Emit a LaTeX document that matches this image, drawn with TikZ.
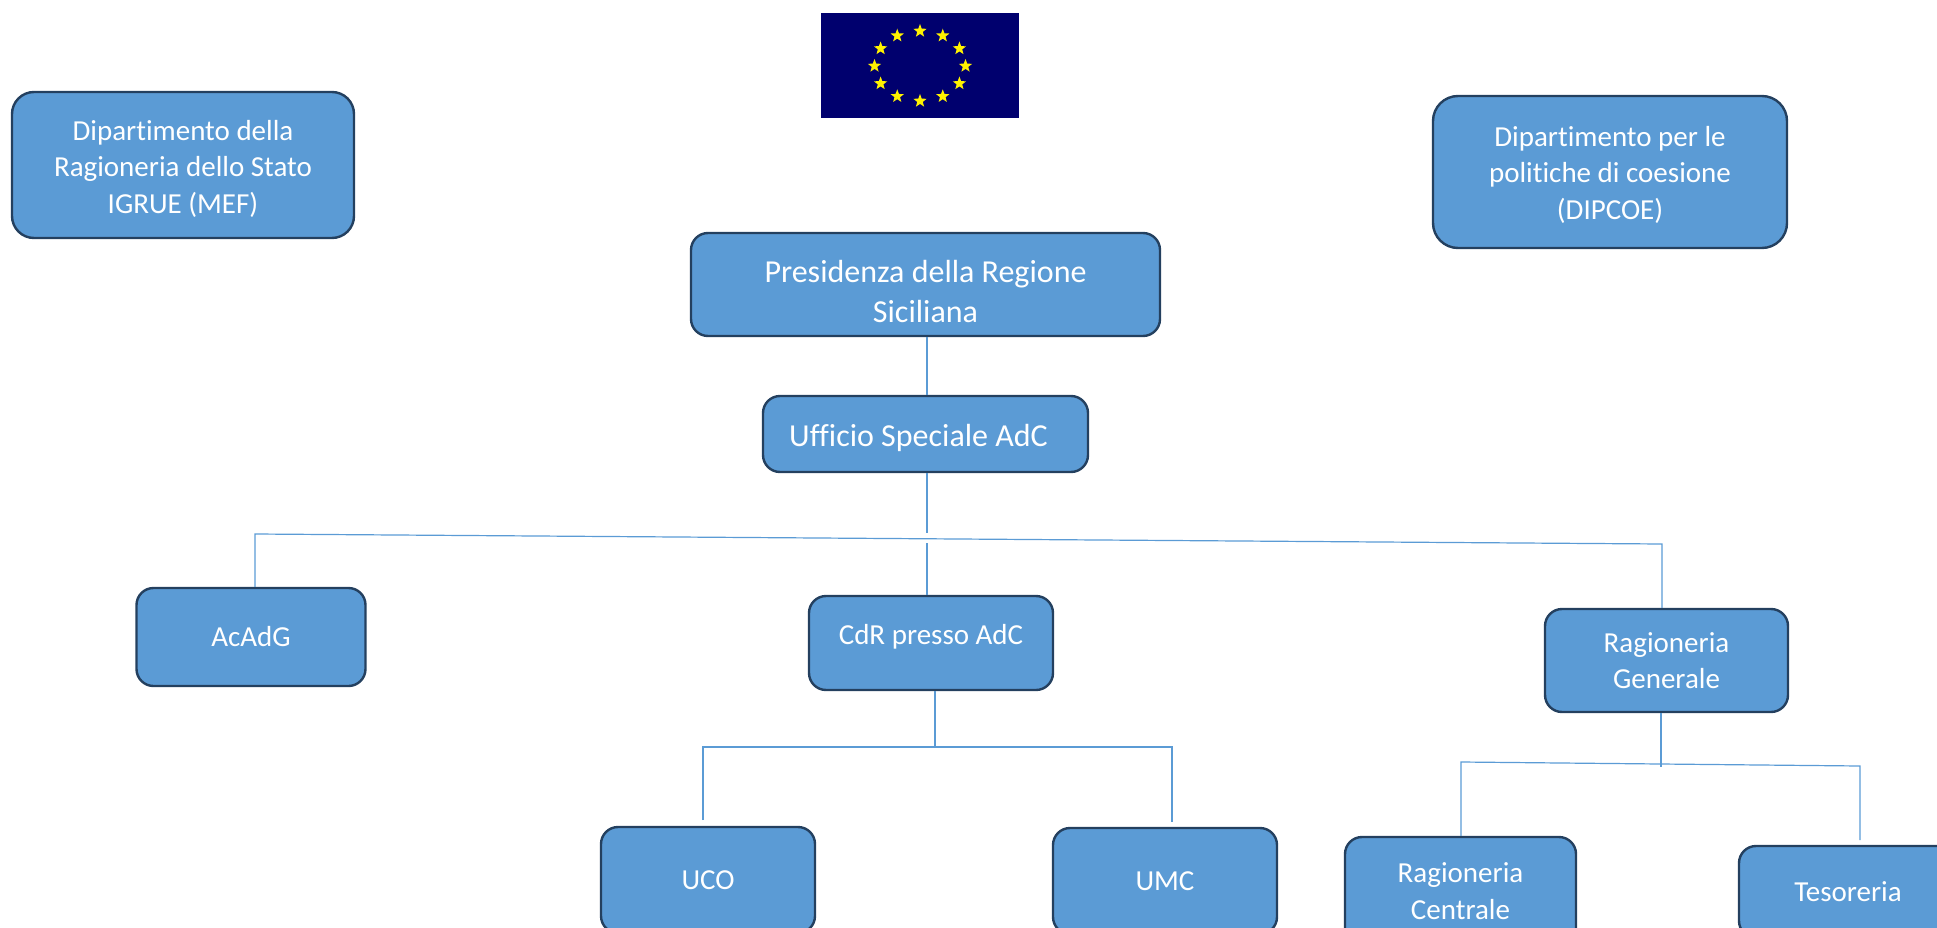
\documentclass[tikz,border=0pt]{standalone}
\usepackage{fontspec}
\setmainfont[Ligatures=NoCommon]{Carlito}
\usetikzlibrary{arrows,%
                shapes,positioning,calc}
\definecolor{boxfill}{HTML}{5B9BD5}
\definecolor{boxline}{HTML}{24405F}
\definecolor{flagblue}{HTML}{00006E}
\definecolor{flagstar}{HTML}{FFF200}
\newcommand{\pushdown}[1]{\rule{0pt}{#1pt}}
\newcommand{\pushup}[1]{\rule[-#1pt]{0pt}{0pt}}
\tikzset{
  orgbox/.style={draw=boxline,fill=boxfill,line width=2.4pt,rounded corners=17pt,
    text=white,align=center,inner sep=0pt,font=\fontsize{29}{36.5}\selectfont},
  bigbox/.style={orgbox,font=\fontsize{32}{39.5}\selectfont},
  link/.style={draw=boxfill,line width=1.2pt},
  flagbox/.style={fill=flagblue,minimum width=198pt,minimum height=105pt,inner sep=0pt},
  eustar/.style={star,star points=5,star point ratio=2.4,fill=flagstar,minimum size=14pt,inner sep=0pt}
}
\begin{document}
\begin{tikzpicture}[x=1pt,y=-1pt]
\path[use as bounding box,clip] (0,0) rectangle (1937,928);
\node[flagbox] (flag) at (920,65.5) {};
\foreach \a in {0,30,...,330}
  \node[eustar] (star\a) at ($(920,66)+(\a:45.5 and -35)$) {};
\node[orgbox,rounded corners=22pt,minimum width=342pt,minimum height=146pt] (igrue) at (183,165) {\pushdown{28}Dipartimento della\\Ragioneria dello Stato\\IGRUE (MEF)};
\node[orgbox,rounded corners=25pt,minimum width=354pt,minimum height=152pt] (dipcoe) at (1610,172) {\pushdown{26}Dipartimento per le\\politiche di coesione\\(DIPCOE)};
\node[bigbox,minimum width=469pt,minimum height=103pt] (presidenza) at (925.5,284.5) {\pushdown{36}Presidenza della Regione\\Siciliana};
\node[bigbox,minimum width=325pt,minimum height=76pt] (ufficio) at (925.5,434) {\pushdown{31}Ufficio Speciale AdC\hspace*{14pt}};
\node[orgbox,minimum width=229pt,minimum height=98pt] (acadg) at (251,637) {AcAdG};
\node[orgbox,minimum width=244pt,minimum height=94pt] (cdr) at (931,643) {CdR presso AdC\pushup{17}};
\node[orgbox,minimum width=243pt,minimum height=103pt] (raggen) at (1666.5,660.5) {Ragioneria\\Generale};
\node[orgbox,minimum width=214pt,minimum height=106pt] (uco) at (708,880) {UCO};
\node[orgbox,minimum width=224pt,minimum height=106pt] (umc) at (1165,881) {UMC};
\node[orgbox,minimum width=231pt,minimum height=108pt] (ragcen) at (1460.5,891) {Ragioneria\\Centrale};
\node[orgbox,minimum width=218pt,minimum height=92pt] (tesoreria) at (1848,892) {Tesoreria};
\coordinate (spine) at (927,533);
\coordinate (spineb) at (927,543);
\coordinate (barl) at (255,534);
\coordinate (barr) at (1662,544);
\coordinate (cdrdown) at (935,747);
\coordinate (cdrl) at (703,747);
\coordinate (cdrr) at (1172,747);
\coordinate (ucoend) at (703,820);
\coordinate (umcend) at (1172,822);
\coordinate (ragdown) at (1661,767);
\coordinate (ragl) at (1461,762);
\coordinate (ragr) at (1860,766);
\coordinate (tesend) at (1860,840);
\draw[link] (spine |- presidenza.south) -- (spine |- ufficio.north);
\draw[link] (spine |- ufficio.south) -- (spine);
\draw[link] (barl |- acadg.north) -- (barl) -- (barr) -- (raggen.north -| barr);
\draw[link] (spineb) -- (spineb |- cdr.north);
\draw[link] (cdrdown |- cdr.south) -- (cdrdown);
\draw[link] (ucoend) -- (cdrl) -- (cdrr) -- (umcend);
\draw[link] (ragdown |- raggen.south) -- (ragdown);
\draw[link] (ragl |- ragcen.north) -- (ragl) -- (ragr) -- (tesend);
\end{tikzpicture}
\end{document}
